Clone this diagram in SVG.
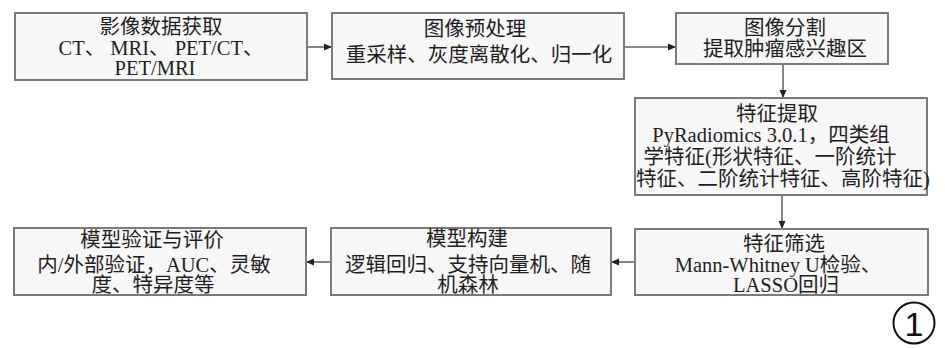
<svg xmlns="http://www.w3.org/2000/svg" width="945" height="348" viewBox="0 0 945 348">
<style>
.box{fill:#f7f7f7;stroke:#7a7a7a;stroke-width:2}
.t{font-family:"Liberation Serif","Noto Sans CJK SC",serif;font-size:20.5px;fill:#1e1e1e;text-anchor:middle}
.c{fill:none;stroke:#666;stroke-width:1.6}
</style>
<defs>
<marker id="ah" markerWidth="9" markerHeight="8" refX="8" refY="4" orient="auto" markerUnits="userSpaceOnUse">
<path d="M0,0.5 L8,4 L0,7.5 z" fill="#222"/>
</marker>
</defs>
<rect width="945" height="348" fill="#ffffff"/>
<g id="connectors">
<line class="c" x1="307" y1="47" x2="332" y2="47" marker-end="url(#ah)"/>
<line class="c" x1="624" y1="47" x2="676" y2="47" marker-end="url(#ah)"/>
<line class="c" x1="783" y1="64" x2="783" y2="98" marker-end="url(#ah)"/>
<line class="c" x1="782" y1="195" x2="782" y2="229" marker-end="url(#ah)"/>
<line class="c" x1="635" y1="262" x2="611" y2="262" marker-end="url(#ah)"/>
<line class="c" x1="331" y1="262" x2="306" y2="262" marker-end="url(#ah)"/>
</g>
<g id="n1">
<rect class="box" x="15" y="13" width="292" height="67"/>
<text class="t" x="161" y="34">影像数据获取</text>
<text class="t" x="161" y="55">CT、 MRI、 PET/CT、</text>
<text class="t" x="155" y="75">PET/MRI</text>
</g>
<g id="n2">
<rect class="box" x="332" y="13" width="292" height="66"/>
<text class="t" x="475" y="36">图像预处理</text>
<text class="t" x="479" y="62">重采样、灰度离散化、归一化</text>
</g>
<g id="n3">
<rect class="box" x="676" y="13" width="212" height="51"/>
<text class="t" x="785" y="35">图像分割</text>
<text class="t" x="785" y="56">提取肿瘤感兴趣区</text>
</g>
<g id="n4">
<rect class="box" x="635" y="98" width="292" height="97"/>
<text class="t" x="777" y="121">特征提取</text>
<text class="t" x="771" y="142">PyRadiomics 3.0.1，四类组</text>
<text class="t" x="770" y="164">学特征(形状特征、一阶统计</text>
<text class="t" x="783" y="186">特征、二阶统计特征、高阶特征)</text>
</g>
<g id="n5">
<rect class="box" x="635" y="229" width="293" height="66"/>
<text class="t" x="784" y="251">特征筛选</text>
<text class="t" x="778" y="272">Mann-Whitney U检验、</text>
<text class="t" x="786" y="292">LASSO回归</text>
</g>
<g id="n6">
<rect class="box" x="331" y="228" width="280" height="67"/>
<text class="t" x="467" y="246">模型构建</text>
<text class="t" x="468" y="272">逻辑回归、支持向量机、随</text>
<text class="t" x="468" y="292">机森林</text>
</g>
<g id="n7">
<rect class="box" x="14" y="228" width="292" height="67"/>
<text class="t" x="152" y="247">模型验证与评价</text>
<text class="t" x="154" y="272">内/外部验证，AUC、灵敏</text>
<text class="t" x="153" y="292">度、特异度等</text>
</g>
<g id="label">
<circle cx="914" cy="323" r="20.5" fill="none" stroke="#111" stroke-width="2"/>
<text x="914" y="336" font-family="Liberation Sans, Arial, sans-serif" font-size="34" fill="#111" text-anchor="middle">1</text>
</g>
</svg>
